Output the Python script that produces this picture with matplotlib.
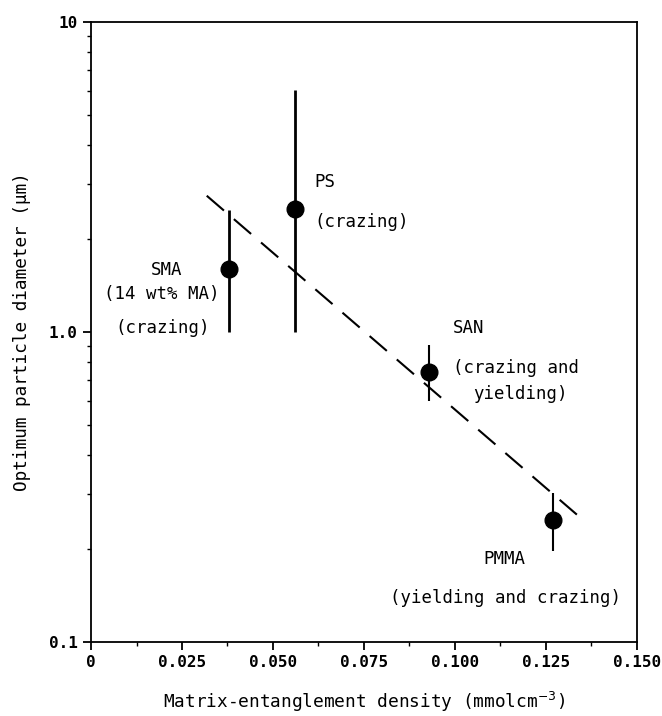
import matplotlib
matplotlib.use("Agg")
import matplotlib.pyplot as plt
from matplotlib.ticker import FixedLocator, NullFormatter, LogLocator

plt.rcParams['font.family'] = ['DejaVu Sans Mono', 'DejaVu Sans']

# data
polymers = ["SMA", "PS", "SAN", "PMMA"]
density = [0.038, 0.056, 0.093, 0.127]
diameter = [1.59, 2.49, 0.745, 0.248]
err_low = [1.0, 1.0, 0.60, 0.197]
err_high = [2.48, 6.05, 0.91, 0.302]
err_lw = [2.0, 2.0, 1.5, 1.5]

fit_x = [0.0318, 0.1336]
fit_y = [2.75, 0.257]

xticks = [0, 0.025, 0.050, 0.075, 0.100, 0.125, 0.150]
xticklabels = ["0", "0.025", "0.050", "0.075", "0.100", "0.125", "0.150"]
yticks = [0.1, 1.0, 10]
yticklabels = ["0.1", "1.0", "10"]

fig = plt.figure(figsize=(6.62, 7.16), dpi=100)
ax = fig.add_axes([0.1375, 0.1034, 0.8245, 0.866])

ax.set_yscale("log")
ax.set_xlim(0, 0.150)
ax.set_ylim(0.1, 10)

# error bars
for x, lo, hi, lw in zip(density, err_low, err_high, err_lw):
    ax.plot([x, x], [lo, hi], color="black", lw=lw, solid_capstyle="butt")

ax.plot(density, diameter, "o", color="black", ms=12)
ax.plot(fit_x, fit_y, color="black", lw=1.5, dashes=(10.9, 6.3))

ax.set_xticks(xticks)
ax.set_xticklabels(xticklabels, fontweight="bold", fontsize=11.5)
ax.xaxis.set_minor_locator(FixedLocator([0.0125, 0.0375, 0.0625, 0.0875, 0.1125, 0.1375]))
ax.set_yticks(yticks)
ax.set_yticklabels(yticklabels, fontweight="bold", fontsize=11.5)
ax.yaxis.set_minor_locator(LogLocator(base=10, subs=range(2, 10)))
ax.yaxis.set_minor_formatter(NullFormatter())

ax.tick_params(which="major", direction="out", length=6, width=1.3)
ax.tick_params(which="minor", direction="out", length=3, width=1)
for s in ax.spines.values():
    s.set_linewidth(1.3)

ax.set_xlabel("Matrix-entanglement density (mmolcm$^{-3}$)", fontsize=12.8, labelpad=14)
ax.set_ylabel("Optimum particle diameter (\u03bcm)", fontsize=12.8, labelpad=13)

fs = 12.5
ax.text(0.0209, 1.585, "SMA", ha="center", va="center", fontsize=fs)
ax.text(0.0194, 1.33, "(14 wt% MA)", ha="center", va="center", fontsize=fs)
ax.text(0.0196, 1.03, "(crazing)", ha="center", va="center", fontsize=fs)
ax.text(0.0615, 3.05, "PS", ha="left", va="center", fontsize=fs)
ax.text(0.0615, 2.26, "(crazing)", ha="left", va="center", fontsize=fs)
ax.text(0.0995, 1.03, "SAN", ha="left", va="center", fontsize=fs)
ax.text(0.0995, 0.763, "(crazing and", ha="left", va="center", fontsize=fs)
ax.text(0.1181, 0.633, "yielding)", ha="center", va="center", fontsize=fs)
ax.text(0.1135, 0.185, "PMMA", ha="center", va="center", fontsize=fs)
ax.text(0.1139, 0.139, "(yielding and crazing)", ha="center", va="center", fontsize=fs)

fig.savefig("out.png", dpi=100)
